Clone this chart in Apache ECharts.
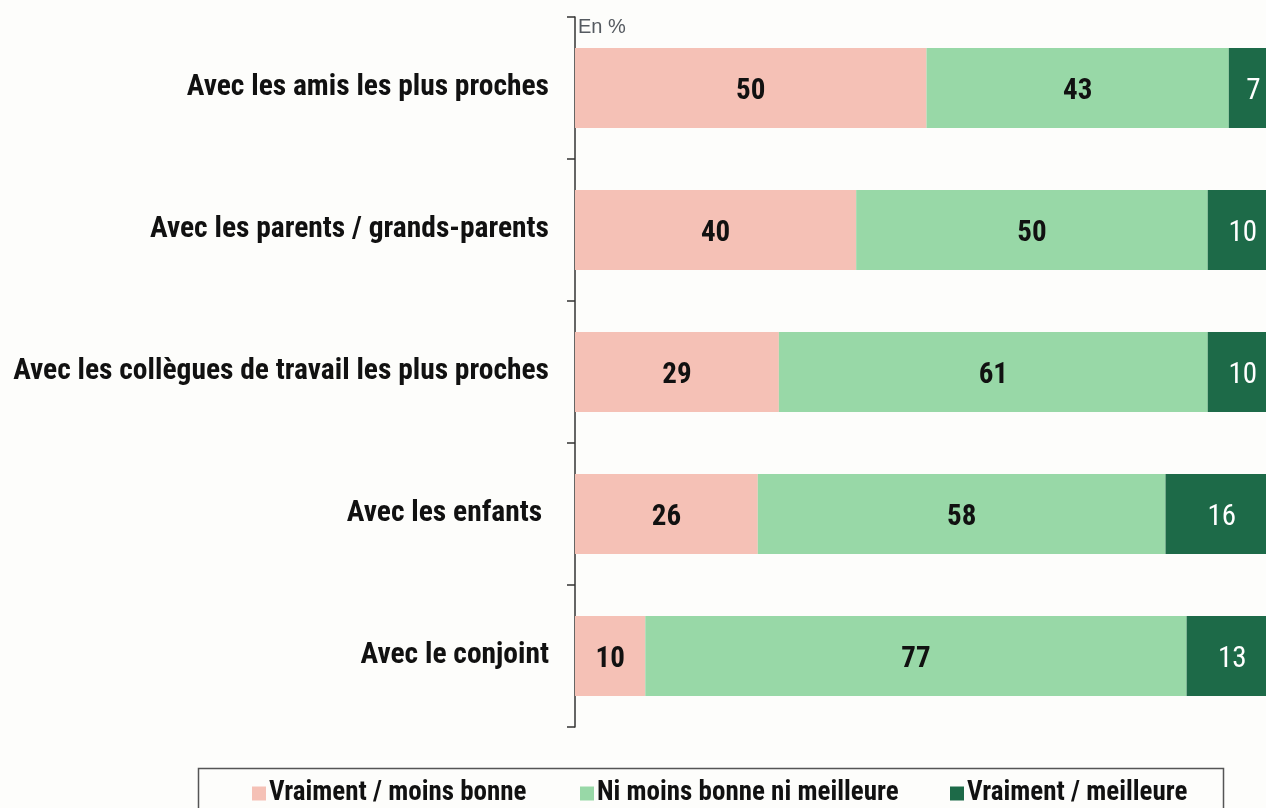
<!DOCTYPE html>
<html lang="fr">
<head>
    <meta charset="utf-8">
    <title>Relations</title>
    <script src="https://cdn.jsdelivr.net/npm/echarts@6/dist/echarts.min.js"></script>
    <style>
        html, body { margin: 0; padding: 0; background: #fdfdfb; }
        #chart { width: 1266px; height: 808px; }
    </style>
</head>
<body>
<div id="chart"></div>
<script type="text/javascript">
    // donnees (en %)
    var categories = [
        'Avec les amis les plus proches',
        'Avec les parents / grands-parents',
        'Avec les collègues de travail les plus proches',
        'Avec les enfants ',
        'Avec le conjoint'
    ];
    var moinsBonne = [50, 40, 29, 26, 10];
    var niNi = [43, 50, 61, 58, 77];
    var meilleure = [7, 10, 10, 16, 13];
    var seriesNames = ['Vraiment / moins bonne', 'Ni moins bonne ni meilleure', 'Vraiment / meilleure'];

    var font = "'Roboto Condensed', 'Arial Narrow', sans-serif";
    var colors = ['#f5c1b6', '#98d8a7', '#1d6a48'];

    var myChart = echarts.init(document.getElementById('chart'));

    function barSeries(name, data, color, labelColor, weight) {
        return {
            name: name,
            type: 'bar',
            stack: 'total',
            barWidth: 80,
            data: data,
            itemStyle: {color: color},
            label: {
                show: true,
                position: 'inside',
                offset: [0, 4],
                color: labelColor,
                fontFamily: font,
                fontWeight: weight,
                fontSize: 29
            }
        };
    }

    function legendAt(name, left) {
        return {
            data: [name],
            left: left,
            top: 780,
            icon: 'rect',
            itemWidth: 14,
            itemHeight: 14,
            itemGap: 0,
            padding: 0,
            selectedMode: false,
            textStyle: {
                fontFamily: font,
                fontWeight: 'bold',
                fontSize: 27,
                color: '#111',
                padding: [0, 0, 0, -2]
            }
        };
    }

    myChart.setOption({
        backgroundColor: '#fdfdfb',
        animation: false,
        color: colors,
        grid: {left: 575, top: 17, width: 703, height: 710, outerBoundsMode: 'none'},
        xAxis: {
            type: 'value',
            min: 0,
            max: 100,
            show: false
        },
        yAxis: {
            type: 'category',
            inverse: true,
            data: categories,
            name: 'En %',
            nameLocation: 'start',
            nameGap: -10,
            nameTextStyle: {
                fontFamily: "'Liberation Sans', Arial, sans-serif",
                fontSize: 20,
                color: '#555a60',
                align: 'left',
                verticalAlign: 'middle',
                padding: [0, 0, 0, 3]
            },
            axisLine: {lineStyle: {color: '#333', width: 1.5}},
            axisTick: {show: true, length: 8, lineStyle: {color: '#333', width: 1.5}},
            axisLabel: {
                margin: 26,
                padding: [8, 0, 0, 0],
                fontFamily: font,
                fontWeight: 'bold',
                fontSize: 29.5,
                color: '#111'
            }
        },
        legend: [
            legendAt(seriesNames[0], 252),
            legendAt(seriesNames[1], 580),
            legendAt(seriesNames[2], 950)
        ],
        graphic: [{
            type: 'rect',
            shape: {x: 198.5, y: 768.5, width: 1025, height: 60},
            style: {fill: 'none', stroke: '#555', lineWidth: 1.5}
        }],
        series: [
            barSeries(seriesNames[0], moinsBonne, colors[0], '#111', 'bold'),
            barSeries(seriesNames[1], niNi, colors[1], '#111', 'bold'),
            barSeries(seriesNames[2], meilleure, colors[2], '#fff', 'normal')
        ]
    });
</script>
</body>
</html>
